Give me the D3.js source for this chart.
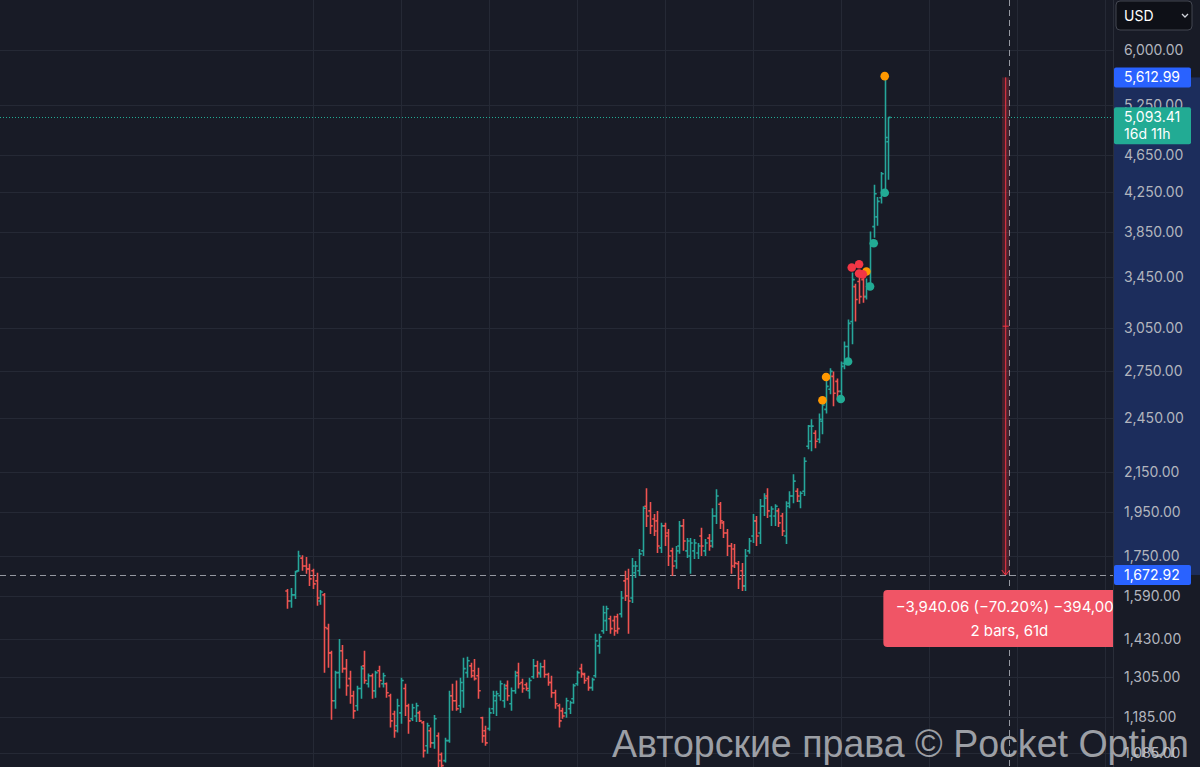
<!DOCTYPE html>
<meta charset="utf-8">
<style>
body {
  margin: 0;
  background-color: #181b26;
}
svg { display: block; }
.axis text {
  font: 14px Inter, sans-serif;
  fill: #b2b5be;
}
.axis path, .axis line { display: none; }
.grid line {
  stroke: #252935;
  stroke-width: 1px;
  shape-rendering: crispEdges;
}
.bar {
  fill: none;
  stroke-width: 1.6px;
}
.up { stroke: #26a69a; }
.down { stroke: #ef5350; }
.tag text {
  font: 14px Inter, sans-serif;
  fill: #ffffff;
}
</style>
<body>
<svg width="1200" height="767"></svg>
<script src="https://cdn.jsdelivr.net/npm/d3@7/dist/d3.min.js"></script>
<script>
// OHLC bars, oldest first
var opens = [1609,1570,1594,1690,1743,1710,1698,1690,1649,1570,1594,1468,1384,1232,1319,1391,1332,1300,1247,1217,
  1269,1341,1284,1309,1262,1325,1284,1284,1247,1193,1159,1196,1269,1217,1179,1187,1196,1168,1104,1145,
  1112,1131,1081,1065,1118,1247,1232,1217,1262,1319,1341,1325,1309,1182,1145,1151,1208,1232,1247,1232,
  1278,1223,1262,1319,1288,1281,1262,1306,1341,1316,1338,1313,1288,1256,1217,1202,1196,1208,1238,1284,
  1332,1313,1300,1272,1309,1408,1460,1497,1504,1497,1511,1522,1649,1657,1582,1682,1690,1774,1977,1955,
  1917,1908,1787,1885,1853,1774,1731,1795,1885,1774,1752,1774,1765,1839,1774,1830,1817,1931,1987,1899,
  1853,1795,1782,1719,1690,1629,1774,1839,1908,1853,1977,2027,1931,1931,1955,1931,1839,1992,2027,2051,
  2002,2051,2288,2316,2362,2327,2432,2503,2628,2712,2679,2615,2799,2917,3100,3374,3416,3432,3293,3399,
  3904,3998,4188,4271,4800];
var highs = [1617,1621,1690,1774,1755,1748,1719,1698,1682,1613,1601,1486,1391,1325,1432,1411,1364,1325,1262,1278,
  1341,1391,1316,1316,1325,1341,1319,1288,1253,1202,1238,1303,1284,1223,1223,1226,1202,1173,1168,1154,
  1190,1140,1086,1126,1262,1284,1294,1303,1368,1371,1351,1364,1335,1185,1159,1211,1262,1262,1294,1284,
  1294,1272,1325,1351,1300,1288,1303,1364,1358,1351,1361,1319,1309,1265,1223,1211,1241,1232,1284,1325,
  1348,1319,1309,1303,1450,1450,1552,1552,1515,1515,1522,1609,1690,1698,1743,1731,1782,1977,2066,1998,
  1940,1955,1899,1899,1871,1787,1795,1908,1917,1830,1830,1826,1808,1876,1826,1848,1968,2061,1998,1908,
  1871,1808,1804,1731,1722,1782,1830,1940,1931,2012,2041,2066,1977,1987,1968,1945,2002,2051,2138,2066,
  2051,2228,2409,2443,2379,2478,2565,2698,2766,2745,2698,2812,2953,3115,3491,3398,3491,3491,3441,3857,
  4322,4196,4458,5612.99,5093.41];
var lows = [1541,1545,1578,1686,1690,1678,1629,1617,1552,1556,1319,1335,1176,1208,1269,1319,1247,1223,1179,1202,
  1238,1284,1272,1238,1241,1272,1272,1241,1154,1126,1140,1165,1187,1137,1173,1170,1170,1073,1083,1099,
  1096,1040,1028,1060,1112,1202,1202,1196,1211,1303,1303,1294,1238,1112,1104,1145,1193,1187,1232,1211,
  1232,1202,1253,1269,1256,1262,1238,1300,1303,1303,1303,1278,1241,1208,1154,1179,1182,1193,1223,1278,
  1303,1284,1262,1262,1303,1381,1450,1460,1450,1443,1450,1508,1570,1450,1563,1661,1669,1752,1880,1848,
  1839,1765,1765,1795,1710,1669,1698,1761,1774,1743,1678,1739,1739,1752,1752,1774,1787,1894,1871,1830,
  1752,1678,1702,1617,1609,1609,1761,1808,1795,1804,1931,1922,1885,1885,1880,1839,1804,1968,1992,1998,
  1968,2027,2272,2261,2277,2305,2356,2478,2596,2522,2561,2561,2759,2826,2932,3100,3236,3244,3270,3358,
  3800,3913,4131,4229,4376];
var closes = [1570,1594,1686,1752,1710,1698,1657,1637,1582,1605,1472,1384,1232,1319,1391,1332,1278,1247,1202,1269,
  1332,1294,1309,1262,1319,1294,1309,1256,1173,1145,1217,1294,1217,1173,1211,1217,1173,1091,1159,1112,
  1179,1065,1052,1118,1247,1232,1208,1288,1332,1358,1309,1300,1262,1131,1112,1196,1247,1253,1284,1269,
  1247,1262,1309,1284,1269,1269,1294,1341,1319,1338,1313,1288,1256,1223,1173,1187,1232,1226,1278,1319,
  1316,1294,1272,1297,1425,1439,1526,1541,1468,1460,1468,1582,1590,1570,1710,1710,1761,1968,1931,1885,
  1862,1795,1885,1839,1752,1710,1774,1885,1817,1817,1808,1808,1795,1795,1808,1795,1931,2027,1908,1853,
  1795,1710,1722,1657,1629,1752,1817,1908,1839,1977,2017,1955,1964,1977,1899,1862,1977,2027,2102,2027,
  2041,2206,2403,2403,2316,2443,2530,2647,2745,2603,2615,2779,2917,3085,3432,3270,3293,3293,3399,3774,
  4229,4152,4440,4850,5093.41];

// indicator markers: bar index, price, colour
var dotIndex = [146, 147, 158, 163, 154, 156, 156, 157, 151, 153, 159, 160, 163];
var dotPrice = [2559, 2708, 3500, 5630, 3534, 3563, 3484, 3476, 2567, 2812, 3375, 3749, 4239];
var dotColor = ["#ff9800","#ff9800","#ff9800","#ff9800","#f23645","#f23645","#f23645","#f23645",
  "#22ab94","#22ab94","#22ab94","#22ab94","#22ab94"];

var priceTicks = [6000, 5250, 4650, 4250, 3850, 3450, 3050, 2750, 2450, 2150, 1950, 1750, 1590, 1430, 1305, 1185, 1085];
var gridBars = [7, 31, 55, 79, 103, 127, 151, 175, 199, 223];

var lastPrice = 5093.41, measureFrom = 5612.99, measureTo = 1672.92;
var measureBars = [195, 197], crossBar = 197;
var measureText = ["\u22123,940.06 (\u221270.20%) \u2212394,006", "2 bars, 61d"];
var countdown = "16d 11h";

var svg = d3.select("svg"),
    W = 1200, H = 767, plotW = 1113;

var x = d3.scaleLinear().domain([0, 164]).range([287.3, 888.4]);
var y = d3.scaleLog().domain([1185, 6000]).range([716.7, 50]);
var fmt = d3.format(",.2f");

var plot = svg.append("g");
plot.append("rect").attr("width", W).attr("height", H).attr("fill", "#181b26");

// grid
var grid = plot.append("g").attr("class", "grid");
grid.selectAll(".h").data(priceTicks).enter().append("line")
    .attr("x1", 0).attr("x2", plotW)
    .attr("y1", function(d) { return Math.round(y(d)) + 0.5; })
    .attr("y2", function(d) { return Math.round(y(d)) + 0.5; });
grid.selectAll(".v").data(gridBars).enter().append("line")
    .attr("y1", 0).attr("y2", H)
    .attr("x1", function(d) { return Math.round(x(d)) + 0.5; })
    .attr("x2", function(d) { return Math.round(x(d)) + 0.5; });

// last price dotted line
plot.append("line")
    .attr("x1", 0).attr("x2", plotW)
    .attr("y1", Math.round(y(lastPrice)) + 0.5).attr("y2", Math.round(y(lastPrice)) + 0.5)
    .attr("stroke", "#22ab94").attr("stroke-dasharray", "1,2");

// crosshair
plot.append("line")
    .attr("x1", 0).attr("x2", plotW)
    .attr("y1", Math.round(y(measureTo)) + 0.5).attr("y2", Math.round(y(measureTo)) + 0.5)
    .attr("stroke", "#9598a1").attr("stroke-dasharray", "6,4");
plot.append("line")
    .attr("y1", 0).attr("y2", H)
    .attr("x1", Math.round(x(crossBar)) + 0.5).attr("x2", Math.round(x(crossBar)) + 0.5)
    .attr("stroke", "#9598a1").attr("stroke-dasharray", "6,4");

// bars
var idx = d3.range(closes.length);
plot.selectAll(".bar").data(idx).enter().append("path")
    .attr("class", function(i) { return "bar " + (closes[i] >= opens[i] ? "up" : "down"); })
    .attr("d", function(i) {
      var cx = Math.round(x(i)) + 0.5;
      return "M" + cx + "," + y(highs[i]) + "V" + y(lows[i]) +
        "M" + (cx - 2.2) + "," + y(opens[i]) + "H" + cx +
        "M" + cx + "," + y(closes[i]) + "H" + (cx + 2.2);
    });

// markers
plot.selectAll(".dot").data(dotIndex).enter().append("circle")
    .attr("cx", function(d) { return x(d); })
    .attr("cy", function(d, k) { return y(dotPrice[k]); })
    .attr("r", 4.3)
    .attr("fill", function(d, k) { return dotColor[k]; });

// price range measurement
var mx0 = x(measureBars[0]), mx1 = x(measureBars[1]), mxc = (mx0 + mx1) / 2;
plot.append("rect")
    .attr("x", mx0).attr("width", mx1 - mx0)
    .attr("y", y(measureFrom)).attr("height", y(measureTo) - y(measureFrom))
    .attr("fill", "rgba(242,54,69,0.22)");
plot.append("line")
    .attr("x1", mxc).attr("x2", mxc)
    .attr("y1", y(measureFrom)).attr("y2", y(measureTo))
    .attr("stroke", "#f23645").attr("stroke-width", 1);
plot.append("path")
    .attr("d", "M" + (mxc - 4) + "," + (y(measureTo) - 5) + "L" + mxc + "," + y(measureTo) + "L" + (mxc + 4) + "," + (y(measureTo) - 5))
    .attr("fill", "none").attr("stroke", "#f23645");
plot.append("line")
    .attr("x1", mxc - 3).attr("x2", mxc + 3)
    .attr("y1", y(Math.sqrt(measureFrom * measureTo))).attr("y2", y(Math.sqrt(measureFrom * measureTo)))
    .attr("stroke", "#f23645");

var box = plot.append("g").attr("transform", "translate(" + x(crossBar) + "," + (y(measureTo) + 15) + ")");
box.append("rect").attr("x", -126).attr("width", 252).attr("height", 57).attr("rx", 4)
    .attr("fill", "#f05566");
box.selectAll("text").data(measureText).enter().append("text")
    .attr("y", function(d, k) { return 22 + k * 24; })
    .attr("text-anchor", "middle")
    .attr("font-family", "Inter, sans-serif").attr("font-size", 15)
    .attr("fill", "#ffffff")
    .text(function(d) { return d; });

// price axis panel
var axisG = svg.append("g").attr("transform", "translate(" + plotW + ",0)");
axisG.append("rect").attr("width", W - plotW).attr("height", H).attr("fill", "#181b26");
axisG.append("rect").attr("y", y(measureFrom)).attr("width", W - plotW)
    .attr("height", y(measureTo) - y(measureFrom)).attr("fill", "rgba(41,98,255,0.25)");
axisG.append("line").attr("x1", 0.5).attr("x2", 0.5).attr("y1", 0).attr("y2", H)
    .attr("stroke", "#2a2e39");

axisG.append("g").attr("class", "axis")
    .call(d3.axisRight(y).tickValues(priceTicks).tickFormat(fmt).tickSize(0).tickPadding(11));

function tag(price, color, lines, h) {
  var g = axisG.append("g").attr("class", "tag")
      .attr("transform", "translate(1," + (y(price) - 10) + ")");
  g.append("rect").attr("width", 77).attr("height", h).attr("rx", 2).attr("fill", color);
  g.selectAll("text").data(lines).enter().append("text")
      .attr("x", 10).attr("y", function(d, k) { return 15 + k * 17; })
      .text(function(d) { return d; });
}
tag(measureFrom, "#2962ff", [fmt(measureFrom)], 20);
tag(lastPrice, "#22ab94", [fmt(lastPrice), countdown], 37);
tag(measureTo, "#2962ff", [fmt(measureTo)], 20);

// currency selector
var usd = axisG.append("g").attr("transform", "translate(3,1)");
usd.append("rect").attr("width", 76).attr("height", 29).attr("rx", 4)
    .attr("fill", "#0e1017").attr("stroke", "#434651");
usd.append("text").attr("x", 8).attr("y", 20)
    .attr("font-family", "Inter, sans-serif").attr("font-size", 14).attr("fill", "#ffffff")
    .text("USD");
usd.append("path").attr("d", "M66,13l3,3l3,-3").attr("fill", "none").attr("stroke", "#d1d4dc").attr("stroke-width", 1.3);

// watermark
svg.append("text")
    .attr("x", 612).attr("y", 757)
    .attr("font-family", "'Liberation Sans', Arial, sans-serif").attr("font-size", 39)
    .attr("textLength", 577).attr("lengthAdjust", "spacingAndGlyphs")
    .attr("fill", "#c9cbd0").attr("fill-opacity", 0.75)
    .text("Авторские права © Pocket Option");
</script>
